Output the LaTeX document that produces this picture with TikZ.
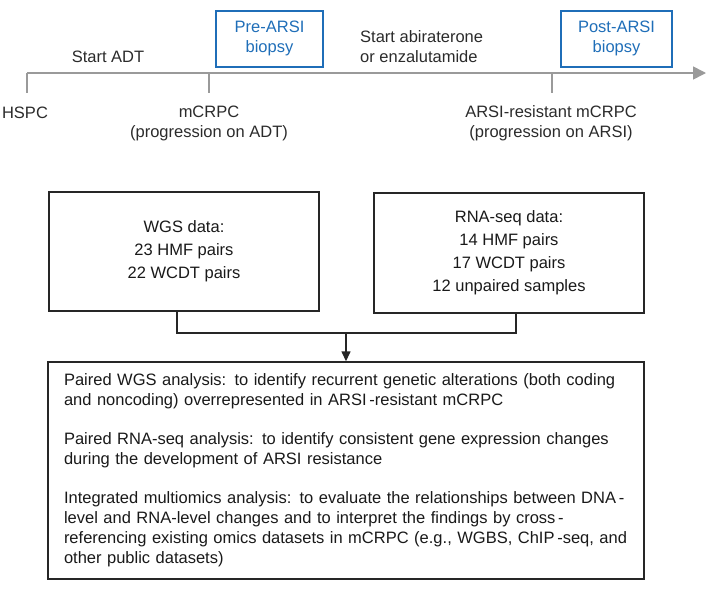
\documentclass[tikz,border=0pt]{standalone}
\usepackage{fontspec}
\setmainfont{Liberation Sans}
\usetikzlibrary{arrows.meta,positioning}
\definecolor{biopsyblue}{HTML}{1F6EB8}
\definecolor{axisgray}{HTML}{9A9A9A}
\definecolor{txtgray}{HTML}{2B2B2B}

\begin{document}
\begin{tikzpicture}[x=1pt, y=-1pt,
            timeline/.style={axisgray, line width=1.6pt},
            biopsy/.style={draw=biopsyblue, line width=1.6pt, text=biopsyblue, align=center,
                minimum width=107pt, minimum height=56pt, inner sep=0pt},
            stage/.style={align=center, text=txtgray, inner sep=0pt},
            databox/.style={draw=black!85, line width=1.4pt, align=center, text=black!90,
                minimum width=270pt, inner sep=0pt, font=\fontsize{16.5}{23}\selectfont},
            link/.style={black!85, line width=1.4pt},
            >={Triangle[length=10pt, width=9pt]},
            font=\fontsize{16.5}{20}\selectfont]
    \useasboundingbox (0,0) rectangle (708,590);
    \coordinate (t0) at (27,73);
    \coordinate (tend) at (706,73);
    \draw[timeline, -{Triangle[length=13pt, width=13pt]}] (t0) -- (tend);
    \foreach \x in {27,209,552}
        \draw[timeline] (\x,73) -- (\x,93);
    \node[stage] (hspc) at (25,113) {HSPC};
    \node[stage] (mcrpc) at (209,123) {mCRPC\\(progression on ADT)};
    \node[stage] (resist) at (551,123) {ARSI-resistant mCRPC\\(progression on ARSI)};
    \node[stage] (adt) at (108,57) {Start ADT};
    \node[stage, anchor=west, align=left] (abi) at (360,47) {Start abiraterone\\or enzalutamide};
    \node[biopsy] (pre) at (269.5,38.7) {Pre-ARSI\\biopsy};
    \node[biopsy, minimum width=111pt] (post) at (616.5,38.7) {Post-ARSI\\biopsy};
    \node[databox, minimum height=119pt] (wgs) at (184,251.5) {WGS data:\\23 HMF pairs\\22 WCDT pairs};
    \node[databox, minimum height=120pt] (rna) at (509,253) {RNA-seq data:\\14 HMF pairs\\17 WCDT pairs\\12 unpaired samples};
    \node[databox, align=left, text width=564pt, minimum height=217pt, inner xsep=16pt,
        font=\fontsize{16.5}{20}\selectfont] (aims) at (346,470.5)
        {Paired WGS analysis: to identify recurrent genetic alterations (both coding\\
         and noncoding) overrepresented in ARSI\,-resistant mCRPC\\[19pt]
         Paired RNA-seq analysis: to identify consistent gene expression changes\\
         during the development of ARSI resistance\\[19pt]
         Integrated multiomics analysis: to evaluate the relationships between DNA\,-\\
         level and RNA-level changes and to interpret the findings by cross\,-\\
         referencing existing omics datasets in mCRPC (e.g., WGBS, ChIP\,-seq, and\\
         other public datasets)};
    \coordinate (merge) at (346,333);
    \draw[link] ([xshift=-7pt]wgs.south) |- (merge) -| ([xshift=7pt]rna.south);
    \draw[link, ->] (merge) -- (aims);
\end{tikzpicture}
\end{document}
